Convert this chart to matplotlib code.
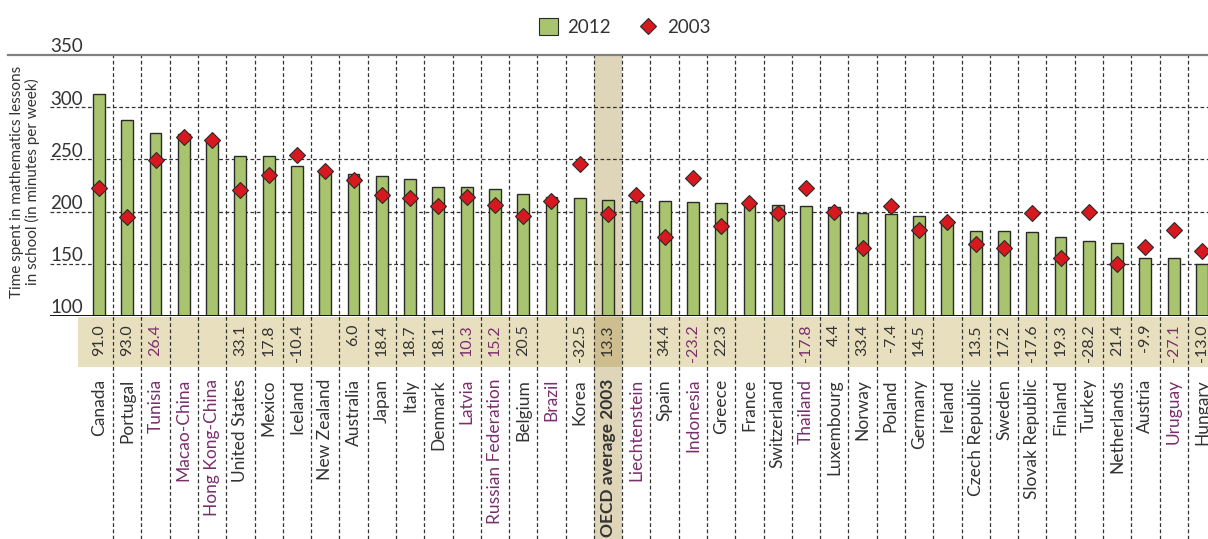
import numpy as np
from matplotlib import pyplot as plt
from matplotlib import transforms
from matplotlib.patches import Rectangle, Patch
from matplotlib.lines import Line2D

plt.rcParams['font.family'] = ['Lato', 'DejaVu Sans']

# data
countries = ['Canada', 'Portugal', 'Tunisia', 'Macao-China', 'Hong Kong-China', 'United States',
             'Mexico', 'Iceland', 'New Zealand', 'Australia', 'Japan', 'Italy', 'Denmark',
             'Latvia', 'Russian Federation', 'Belgium', 'Brazil', 'Korea', 'OECD average 2003',
             'Liechtenstein', 'Spain', 'Indonesia', 'Greece', 'France', 'Switzerland', 'Thailand',
             'Luxembourg', 'Norway', 'Poland', 'Germany', 'Ireland', 'Czech Republic', 'Sweden',
             'Slovak Republic', 'Finland', 'Turkey', 'Netherlands', 'Austria', 'Uruguay', 'Hungary']
v2012 = [313, 287.5, 275.5, 274, 268, 253.5, 252.8, 243.3, 238, 236, 234.4, 231.5, 223.9,
         223.9, 222, 216.5, 213.7, 212.7, 211.5, 210.5, 209.8, 208.9, 208.6, 208, 206.7, 205.4,
         204.4, 198.7, 197.7, 195.8, 190.5, 181.8, 181.8, 180.2, 175.2, 171.6, 170.4, 156, 155.1, 149.4]
v2003 = [222.6, 194.6, 249, 271.3, 269, 220.7, 235, 253.8, 239.1, 230, 216.2, 213, 205.7,
         213.7, 206.7, 195.8, 210.5, 245.5, 198.1, 215.6, 175.5, 232.1, 186.3, 208, 198.4, 223,
         200, 165.6, 205.1, 182.1, 190, 168.5, 164.7, 198.7, 155.7, 200, 149.4, 165.9, 182.8, 162.7]
diffs = ['91.0', '93.0', '26.4', '', '', '33.1', '17.8', '-10.4', '', '6.0', '18.4', '18.7', '18.1',
         '10.3', '15.2', '20.5', '', '-32.5', '13.3', '', '34.4', '-23.2', '22.3', '', '', '-17.8',
         '4.4', '33.4', '-7.4', '14.5', '', '13.5', '17.2', '-17.6', '19.3', '-28.2', '21.4', '-9.9',
         '-27.1', '-13.0']
partners = ['Tunisia', 'Macao-China', 'Hong Kong-China', 'Latvia', 'Russian Federation', 'Brazil',
            'Liechtenstein', 'Indonesia', 'Thailand', 'Uruguay']
yticks = [100, 150, 200, 250, 300, 350]
avg_name = 'OECD average 2003'

green = '#a8c46e'
red = '#d7191f'
purple = '#7a2e6c'
dark = '#333333'

W, H = 1208, 539
fig = plt.figure(figsize=(W / 100, H / 100), dpi=100)
ax = fig.add_axes([50 / W, 1 - 316 / H, (W - 50) / W, (316 - 55) / H])

x = np.arange(len(countries))
ax.set_xlim((50 - 99) / 28.28, (W - 99) / 28.28)
ax.set_ylim(100, 350)
for s in ax.spines.values():
    s.set_visible(False)
ax.set_xticks([])
ax.set_yticks([])

trans = transforms.blended_transform_factory(ax.transData, fig.transFigure)
ytop = 1 - 55 / H
band_top = 1 - 317 / H
band_bot = 1 - 367 / H

# beige band for differences
ax.add_patch(Rectangle(((78 - 99) / 28.28, band_bot), 50, band_top - band_bot, transform=trans,
                       facecolor='#e8dfbf', edgecolor='none', clip_on=False, zorder=0))
# highlighted OECD column
k = countries.index(avg_name)
ax.add_patch(Rectangle((k - 0.5, band_top), 1, ytop - band_top, transform=trans,
                       facecolor='#dfd6b9', edgecolor='none', clip_on=False, zorder=0))
ax.add_patch(Rectangle((k - 0.5, 0), 1, band_bot, transform=trans,
                       facecolor='#dfd6b9', edgecolor='none', clip_on=False, zorder=0))
ax.add_patch(Rectangle((k - 0.5, band_bot), 1, band_top - band_bot, transform=trans,
                       facecolor='#cdbd8f', edgecolor='none', clip_on=False, zorder=0))

# grid
for v in yticks[1:-1]:
    ax.axhline(v, color=dark, lw=0.9, ls=(0, (3, 2)), zorder=1)
for i in range(len(countries) - 1):
    ax.plot([i + 0.5, i + 0.5], [0, ytop], transform=trans, color=dark, lw=0.9,
            ls=(0, (3, 2)), clip_on=False, zorder=1)

fig.add_artist(Line2D([8 / W, 1], [ytop, ytop], color='#808080', lw=1.6))
ax.axhline(100, color='black', lw=1.3, zorder=4)

ax.bar(x, v2012, width=0.42, bottom=0, color=green, edgecolor='#2a2a2a', lw=1.0, zorder=2)
ax.plot(x, v2003, ls='none', marker='D', ms=8.5, color=red, mec='#2a2a2a', mew=0.8, zorder=3)

for v in yticks:
    ax.text(0.0, v + 2.5, str(v), transform=transforms.blended_transform_factory(ax.transAxes, ax.transData),
            ha='left', va='baseline', fontsize=13.5, color=dark, clip_on=False)

for i, (c, d) in enumerate(zip(countries, diffs)):
    col = purple if c in partners else dark
    ax.text(i, 1 - 324 / H, d, transform=trans, rotation=90, ha='center', va='top',
            fontsize=11.5, color=col)
    ax.text(i, 1 - 379 / H, c, transform=trans, rotation=90, ha='center', va='top',
            fontsize=12.5, color=col, fontweight='bold' if c == avg_name else 'normal')

fig.text(25 / W, 1 - 182 / H, 'Time spent in mathematics lessons\nin school (in minutes per week)',
         rotation=90, ha='center', va='center', fontsize=11, color=dark, linespacing=1.0)

handles = [Patch(facecolor=green, edgecolor='#2a2a2a', lw=0.8),
           Line2D([], [], ls='none', marker='D', ms=8.5, color=red, mec='#2a2a2a', mew=0.8)]
fig.legend(handles, ['2012', '2003'], loc='center', bbox_to_anchor=(625 / W, 1 - 27 / H),
           ncol=2, frameon=False, fontsize=13.5, handlelength=1.0, handleheight=1.0,
           columnspacing=1.5, handletextpad=0.5, labelcolor=dark)

plt.savefig('out.png', dpi=100)
